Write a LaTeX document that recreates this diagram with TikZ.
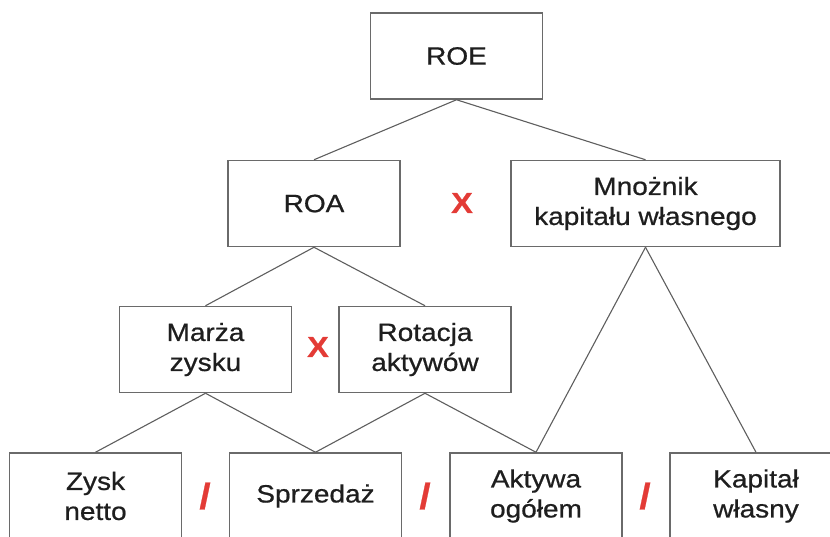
\documentclass[tikz,border=0pt]{standalone}
\usepackage{fontspec}
\setmainfont{Liberation Sans}[FakeStretch=1.12,FakeBold=0.7]
\definecolor{boxgray}{HTML}{6A6A6A}
\definecolor{linegray}{HTML}{5E5E5E}
\definecolor{textgray}{HTML}{1E1E1E}
\definecolor{opred}{HTML}{E33B36}

\begin{document}
\begin{tikzpicture}[x=1pt,y=-1pt,
  box/.style={rectangle,draw=boxgray,line width=1.5pt,minimum width=172pt,
    minimum height=86pt,inner sep=0pt,align=center,text=textgray,
    font=\fontsize{25}{30}\selectfont},
  op/.style={text=opred,inner sep=0pt,font=\fontsize{29}{30}\selectfont\bfseries},
  div/.style={op,font=\fontsize{36}{36}\selectfont\bfseries},
  every edge/.style={draw=linegray,line width=1.1pt}]

  \clip (0,0) rectangle (830,536);

  % boxes
  \node[box] (roe) at (456.5,56) {ROE};
  \node[box] (roa) at (314,203.5) {ROA};
  \node[box,minimum width=269pt] (mnoznik) at (645.5,203.5) {Mnożnik\\kapitału własnego};
  \node[box] (marza) at (205.5,349.5) {Marża\\zysku};
  \node[box] (rotacja) at (425,349.5) {Rotacja\\aktywów};
  \node[box] (zysk) at (95.5,496) {Zysk\\netto};
  \node[box] (sprzedaz) at (315.5,496) {Sprzedaż};
  \node[box] (aktywa) at (536,496) {Aktywa\\ogółem};
  \node[box] (kapital) at (756,496) {Kapitał\\własny};

  % operators
  \node[op] (razy1) at (462,203) {X};
  \node[op] (razy2) at (318,347) {X};
  \node[div] (przez1) at (205,496) {/};
  \node[div] (przez2) at (425,496) {/};
  \node[div] (przez3) at (645,496) {/};

  \path
    (roe.south) edge (roa.north)
    (roe.south) edge (mnoznik.north)
    (roa.south) edge (marza.north)
    (roa.south) edge (rotacja.north)
    (mnoznik.south) edge (aktywa.north)
    (mnoznik.south) edge (kapital.north)
    (marza.south) edge (zysk.north)
    (marza.south) edge (sprzedaz.north)
    (rotacja.south) edge (sprzedaz.north)
    (rotacja.south) edge (aktywa.north);
\end{tikzpicture}
\end{document}
